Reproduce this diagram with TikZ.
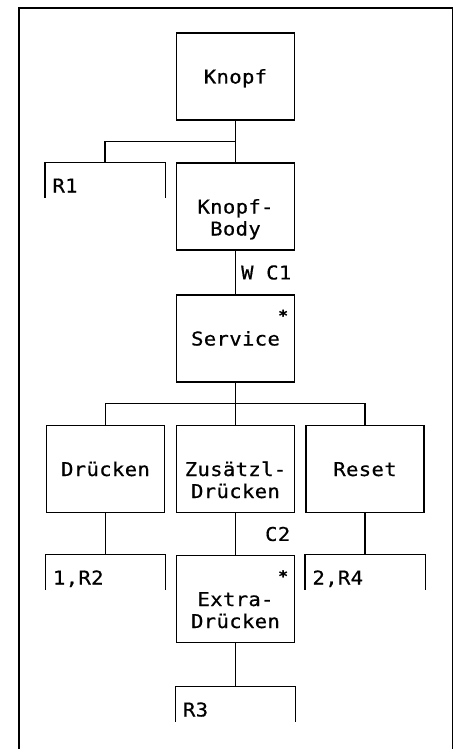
\documentclass[tikz,border=0pt]{standalone}
\usepackage{fontspec}
\setmonofont[FakeStretch=1.08, LetterSpace=2, FakeBold=0.6]{DejaVu Sans Mono}
\usetikzlibrary{calc}

\begin{document}
\begin{tikzpicture}[x=1pt, y=-1pt, line width=1.3pt,
  font=\ttfamily\fontsize{19}{22}\selectfont,
  box/.style={draw, minimum width=118pt, minimum height=87pt, align=center, inner sep=0pt, text height=14pt, text depth=0pt},
  twobox/.style={box, text height=58pt},
  leaf/.style={minimum width=119pt, minimum height=34pt, text width=105pt, align=left, inner xsep=7pt, inner ysep=0pt, text height=25pt, text depth=0pt},
  starmark/.style={font=\ttfamily\bfseries\fontsize{15}{15}\selectfont, inner sep=0pt},
  lbl/.style={right, inner sep=5pt}]
\useasboundingbox (0,0) rectangle (457,749);
\draw[line width=1.4pt] (19,749) |- (452.5,8) -- (452.5,749);

\node[box] (knopf) at (235.5, 76.5) {Knopf};
\node[twobox] (body) at (235.5, 206.5) {Knopf-\\Body};
\node[leaf] (r1) at (105, 180) {R1};
\node[box] (service) at (235.5, 338.5) {Service};
\node[box] (druecken) at (105.5, 469) {Drücken};
\node[twobox] (zusatz) at (235.5, 469) {Zusätzl-\\Drücken};
\node[box] (reset) at (365, 469) {Reset};
\node[leaf] (r2) at (105.5, 572) {1,R2};
\node[twobox] (extra) at (235.5, 599) {Extra-\\Drücken};
\node[leaf] (r4) at (365, 572) {2,R4};
\node[leaf] (r3) at (235.5, 704) {R3};

\node[starmark] (s1) at ([shift={(-12,21)}]service.north east) {*};
\node[starmark] (s2) at ([shift={(-12,21)}]extra.north east) {*};

\draw (knopf) -- (body);
\draw (r1.north) |- ($(knopf.south)!.5!(body.north)$);
\draw (body) -- node[lbl] {W C1} (service);
\draw (service) -- (zusatz);
\draw (druecken.north) |- ($(service.south)!.5!(zusatz.north)$) -| (reset.north);
\draw (druecken) -- (r2);
\draw (zusatz) -- node[lbl, xshift=24pt] {C2} (extra);
\draw (reset) -- (r4);
\draw (extra) -- (r3);

\foreach \n in {r1,r2,r3,r4}
  \draw (\n.south west) |- (\n.north east) -- (\n.south east);
\end{tikzpicture}
\end{document}
